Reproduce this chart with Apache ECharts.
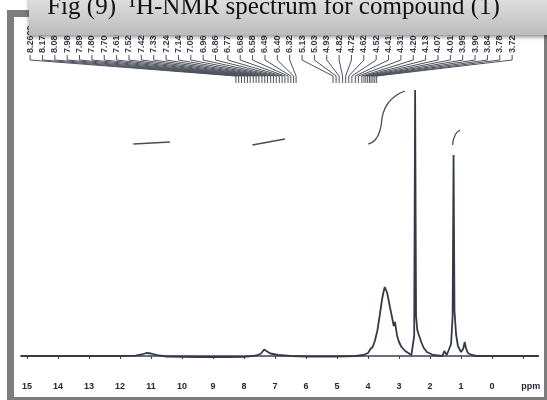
<!DOCTYPE html>
<html><head><meta charset="utf-8">
<script src="https://cdn.jsdelivr.net/npm/echarts@6/dist/echarts.min.js"></script>
<style>html,body{margin:0;padding:0;background:#fff}#c{width:547px;height:400px}</style>
</head><body><div id="c"></div>
<script>
var titleText = 'Fig (9)  \u00B9H-NMR spectrum for compound (1)';

// spectrum trace: chemical shift (ppm) and intensity (arbitrary units)
var spectrumPpm = [15.2, 12.0, 11.5, 11.3, 11.15, 11.0, 10.8, 10.5, 9.5, 8.5, 8.0, 7.6, 7.45, 7.35, 7.28, 7.15, 6.9, 6.5, 6.0, 5.0,
  4.4, 4.15, 4.0, 3.92, 3.85, 3.78, 3.7, 3.62, 3.55, 3.5, 3.46, 3.42, 3.38, 3.33, 3.28, 3.22, 3.17, 3.13, 3.1, 3.06, 3.0,
  2.92, 2.8, 2.7, 2.6, 2.54, 2.51, 2.48, 2.45, 2.41, 2.36, 2.32, 2.27, 2.2, 2.1, 1.9, 1.6, 1.54, 1.5, 1.46, 1.4, 1.32,
  1.27, 1.24, 1.21, 1.16, 1.1, 1.0, 0.93, 0.88, 0.84, 0.78, 0.65, 0.5, -1.5];
var spectrumInt = [0, 0, 0.3, 1.5, 3, 2.5, 0.8, -0.5, -1, -1, -0.8, 0.5, 2.5, 6.5, 5, 2.5, 1, 0, -0.5, -0.5,
  0, 1, 3, 7, 9, 15, 25, 41, 56, 64, 69, 68, 63, 55, 47, 38, 30, 34, 32, 20, 14,
  9, 5, 3, 1, 0.5, 20, 266, 40, 26, 21, 19, 13, 8, 4, 1, 0, 5, 6, 1, 3, 12,
  40, 201, 45, 22, 10, 4, 7, 14, 8, 3, 1, 0, 0];

// integration traces
var integral1Ppm = [3.99, 3.77, 3.61, 3.51, 3.35, 3.07, 2.81];
var integral1Int = [212, 216, 226, 243, 253, 261, 265];
var integral2Ppm = [1.27, 1.19, 1.03];
var integral2Int = [211, 221, 226];
var integral3Ppm = [11.57, 10.39];
var integral3Int = [212, 214];
var integral4Ppm = [7.73, 6.68];
var integral4Int = [211, 217];

// peak-label connectors: ppm where each connector ends
var peakLabelPpm = [8.26, 8.17, 8.08, 7.98, 7.89, 7.80, 7.70, 7.61, 7.52, 7.42, 7.33, 7.24, 7.14, 7.05, 6.96, 6.86, 6.77, 6.68, 6.58, 6.49, 6.40, 6.32,
  5.13, 5.03, 4.93, 4.82, 4.72, 4.62, 4.52, 4.41, 4.31, 4.20,
  4.13, 4.07, 4.01, 3.95, 3.90, 3.84, 3.78, 3.72];

var tickValues = [15, 14, 13, 12, 11, 10, 9, 8, 7, 6, 5, 4, 3, 2, 1, 0, -1];
var tickLabelValues = [15, 14, 13, 12, 11, 10, 9, 8, 7, 6, 5, 4, 3, 2, 1, 0, -1.25];
var unitLabel = 'ppm';

function zip(a, b) { return a.map(function (v, i) { return [v, b[i]]; }); }

var colFirstPpm = 14.9, colLastPpm = -0.65;
function renderLabel(params, api) {
  var i = api.value(0);
  var endP = api.value(1);
  var n = peakLabelPpm.length;
  var colP = colFirstPpm + (colLastPpm - colFirstPpm) * i / (n - 1);
  var top = api.coord([colP, 303]);
  var end = api.coord([endP, 273]);
  var xc = top[0], yb = top[1];
  return {
    type: 'group',
    children: [
      { type: 'text', x: xc, y: yb, rotation: Math.PI / 2,
        style: { text: peakLabelPpm[i].toFixed(4), fontSize: 9, fontWeight: 'bold', fontFamily: 'Liberation Sans',
          fill: '#3a3d47', align: 'left', verticalAlign: 'middle' } },
      { type: 'polyline',
        shape: { points: [[xc, yb + 2], [xc, yb + 7], [end[0], end[1] - 7], [end[0], end[1]]] },
        style: { stroke: '#4d515c', lineWidth: 1, fill: null } }
    ]
  };
}

var chart = echarts.init(document.getElementById('c'));
var intStyle = { color: '#4a4d57', width: 1.3 };
chart.setOption({
  animation: false,
  backgroundColor: '#ffffff',
  title: {
    text: titleText, left: 'center', top: -10, z: 110,
    textStyle: { fontFamily: 'Liberation Serif', fontSize: 25, fontWeight: 'normal', color: '#111111' }
  },
  grid: { left: 20.8, right: 8.5, top: 17, bottom: 25.5 },
  xAxis: {
    type: 'value', inverse: true, min: -1.5, max: 15.2,
    axisLine: { show: true, lineStyle: { color: '#3c4055', width: 1.5 } },
    axisTick: { show: true, length: 3, customValues: tickValues, lineStyle: { color: '#3c4055', width: 1 } },
    axisLabel: {
      customValues: tickLabelValues, margin: 8, fontSize: 9, fontWeight: 'bold', fontFamily: 'Liberation Sans', color: '#23263a',
      formatter: function (v) { return v < -0.5 ? unitLabel : String(v); }
    },
    splitLine: { show: false }
  },
  yAxis: { type: 'value', min: -18.5, max: 339, show: false },
  series: [
    { type: 'line', data: zip(spectrumPpm, spectrumInt), showSymbol: false, symbol: 'none',
      lineStyle: { color: '#353a48', width: 1.8 }, z: 3 },
    { type: 'line', data: zip(integral1Ppm, integral1Int), symbol: 'none', smooth: true, lineStyle: intStyle },
    { type: 'line', data: zip(integral2Ppm, integral2Int), symbol: 'none', smooth: true, lineStyle: intStyle },
    { type: 'line', data: zip(integral3Ppm, integral3Int), symbol: 'none', lineStyle: intStyle },
    { type: 'line', data: zip(integral4Ppm, integral4Int), symbol: 'none', lineStyle: intStyle },
    { type: 'custom', renderItem: renderLabel, clip: false, encode: { x: 1, y: 2 },
      data: peakLabelPpm.map(function (p, i) { return [i, p, 273]; }), z: 4 }
  ],
  graphic: [
    { type: 'rect', z: 50, silent: true,
      shape: { x: 10.5, y: 13.5, width: 537, height: 387 },
      style: { fill: null, stroke: '#7d7d7d', lineWidth: 7 } },
    { type: 'rect', z: 100, silent: true,
      shape: { x: 29, y: -5, width: 530, height: 40 },
      style: {
        fill: new echarts.graphic.LinearGradient(0, 0, 0, 1, [{ offset: 0, color: '#e2e2e2' }, { offset: 1, color: '#bcbcbc' }]),
        shadowBlur: 4, shadowOffsetY: 2, shadowColor: 'rgba(0,0,0,0.45)'
      } }
  ]
});
</script>
</body></html>
